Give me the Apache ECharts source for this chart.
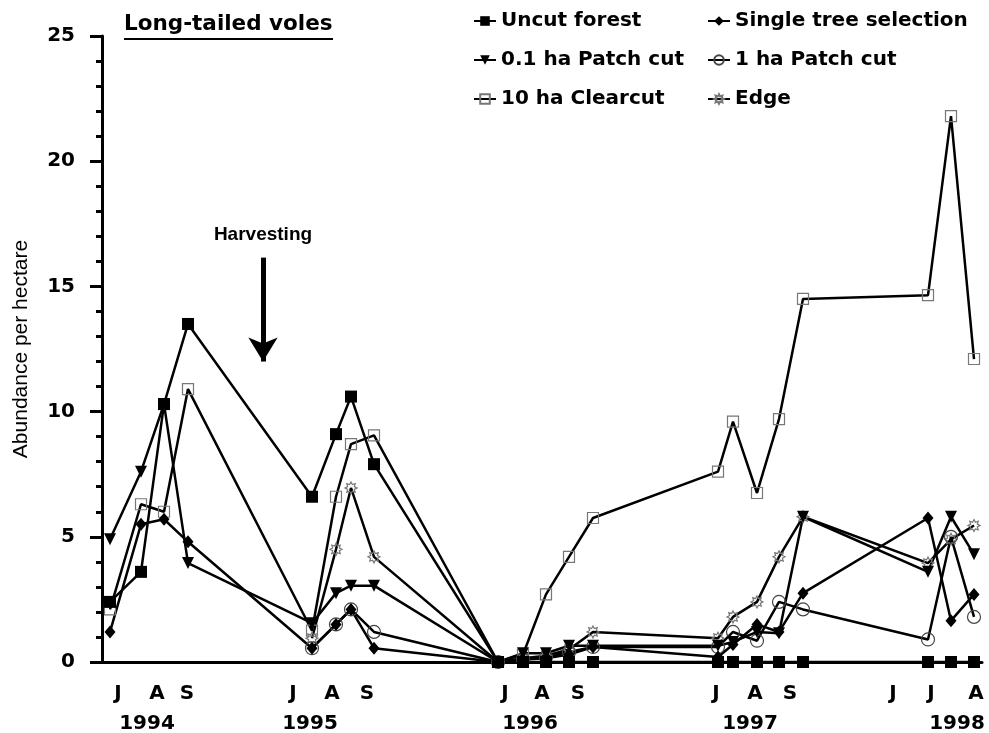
<!DOCTYPE html>
<html>
<head>
<meta charset="utf-8">
<script src="https://cdn.jsdelivr.net/npm/echarts@6/dist/echarts.min.js"></script>
<style>
html,body{margin:0;padding:0;background:#fff;}
#chart{width:989px;height:733px;}
</style>
</head>
<body>
<div id="chart"></div>
<script>
// Sampling positions along the (non-linear) time axis, in axis units
const sampleX = [8, 39, 62, 86, 210, 234, 249, 272, 396, 421, 444, 467, 491, 616, 631, 655, 677, 701, 826, 849, 872];
// Abundance per hectare for each treatment (null = not sampled)
const uncutForest   = [2.4, 3.6, 10.3, 13.5, 6.6, 9.1, 10.6, 7.9, 0, 0, 0, 0, 0, 0, 0, 0, 0, 0, 0, 0, 0];
const singleTree    = [1.2, 5.5, 5.7, 4.8, 0.55, 1.5, 2.1, 0.55, 0, 0.1, 0.15, 0.3, 0.6, 0.2, 0.7, 1.5, 1.2, 2.75, 5.75, 1.65, 2.7];
const patch01       = [4.9, 7.6, 10.3, 3.95, 1.55, 2.75, 3.05, 3.05, 0, 0.35, 0.35, 0.65, 0.65, 0.65, 0.8, 1.2, 1.15, 5.8, 3.6, 5.8, 4.3];
const patch1        = [null, null, null, null, 0.55, 1.5, 2.1, 1.2, 0, 0.1, 0.2, 0.4, 0.6, 0.6, 1.2, 0.85, 2.4, 2.1, 0.9, 5.0, 1.8];
const clearcut10    = [2.1, 6.3, 6.0, 10.9, 1.25, 6.6, 8.7, 9.05, 0, 0.3, 2.7, 4.2, 5.75, 7.6, 9.6, 6.75, 9.7, 14.5, 14.65, 21.8, 12.1];
const edgeSeries    = [null, null, null, null, 0.95, 4.5, 6.95, 4.2, 0, 0.15, 0.25, 0.5, 1.2, 0.95, 1.8, 2.4, 4.2, 5.8, 3.95, 4.9, 5.45];

// Axis labels
const monthTickPos    = [16, 55, 85, 191, 230, 265, 403, 440, 476, 614, 653, 688, 791, 829, 874];
const monthTickLabels = ['J','A','S','J','A','S','J','A','S','J','A','S','J','J','A'];
const yearTickPos     = [45, 208, 428, 648, 855];
const yearTickLabels  = ['1994','1995','1996','1997','1998'];
const yTicks = [0, 5, 10, 15, 20, 25];

const seriesNames = ['Uncut forest', 'Single tree selection', '0.1 ha Patch cut', '1 ha Patch cut', '10 ha Clearcut', 'Edge'];

function pairs(vals){
  const out = [];
  for (let i = 0; i < sampleX.length; i++) {
    if (vals[i] !== null && vals[i] !== undefined) out.push([sampleX[i], vals[i]]);
  }
  return out;
}

const starPath = 'path://M10,0L12.3,4.46L17.07,2.93L15.54,7.7L20,10L15.54,12.3L17.07,17.07L12.3,15.54L10,20L7.7,15.54L2.93,17.07L4.46,12.3L0,10L4.46,7.7L2.93,2.93L7.7,4.46Z';

const FONT = 'DejaVu Sans';
const chart = echarts.init(document.getElementById('chart'), null, {renderer: 'canvas'});

function lineSeries(name, vals, symbol, size, itemStyle, extra){
  return Object.assign({
    name: name,
    type: 'line',
    data: pairs(vals),
    symbol: symbol,
    symbolSize: size,
    showAllSymbol: true,
    lineStyle: {color: '#000', width: 2.5},
    itemStyle: itemStyle,
    emphasis: {disabled: true},
    animation: false
  }, extra || {});
}

const hollowGrey = {color: 'rgba(255,255,255,0)', borderColor: '#777', borderWidth: 1.2};

const option = {
  backgroundColor: '#fff',
  animation: false,
  grid: {left: 102, right: 7, top: 36, bottom: 71, containLabel: false, outerBoundsMode: 'none'},
  graphic: [
    {type: 'text', left: 124, top: 13, style: {text: 'Long-tailed voles', font: 'bold 21.5px "DejaVu Sans"', fill: '#000'}},
    {type: 'rect', left: 124, top: 38, shape: {width: 209, height: 2}, style: {fill: '#000'}}
  ],
  legend: [
    {
      data: [seriesNames[0], seriesNames[2], seriesNames[4]],
      orient: 'vertical', left: 473, top: 11, padding: 0, itemWidth: 22, itemHeight: 12, itemGap: 19,
      textStyle: {fontFamily: FONT, fontWeight: 'bold', fontSize: 20, color: '#000'},
      selectedMode: false
    },
    {
      data: [seriesNames[1], seriesNames[3], seriesNames[5]],
      orient: 'vertical', left: 707, top: 11, padding: 0, itemWidth: 22, itemHeight: 12, itemGap: 19,
      textStyle: {fontFamily: FONT, fontWeight: 'bold', fontSize: 20, color: '#000'},
      selectedMode: false
    }
  ],
  xAxis: [
    {
      type: 'value', min: 0, max: 880, position: 'bottom',
      axisLine: {show: true, onZero: false, lineStyle: {color: '#000', width: 3}},
      axisTick: {show: false},
      splitLine: {show: false},
      axisLabel: {
        customValues: monthTickPos, margin: 22,
        fontFamily: FONT, fontWeight: 'bold', fontSize: 20, color: '#000',
        formatter: function(v){ const i = monthTickPos.indexOf(v); return i >= 0 ? monthTickLabels[i] : ''; }
      }
    },
    {
      type: 'value', min: 0, max: 880, position: 'bottom', gridIndex: 0,
      axisLine: {show: false}, axisTick: {show: false}, splitLine: {show: false},
      axisLabel: {
        customValues: yearTickPos, margin: 52,
        fontFamily: FONT, fontWeight: 'bold', fontSize: 20, color: '#000',
        formatter: function(v){ const i = yearTickPos.indexOf(v); return i >= 0 ? yearTickLabels[i] : ''; }
      }
    }
  ],
  yAxis: {
    type: 'value', min: 0, max: 25, interval: 5,
    name: 'Abundance per hectare', nameLocation: 'middle', nameGap: 70, nameRotate: 90,
    nameTextStyle: {fontFamily: 'Liberation Sans', fontSize: 21, color: '#000'},
    axisLine: {show: true, lineStyle: {color: '#000', width: 3}},
    axisTick: {show: true, inside: false, length: 12, lineStyle: {color: '#000', width: 3}},
    minorTick: {show: true, splitNumber: 5, length: 6, lineStyle: {color: '#000', width: 3}},
    splitLine: {show: false},
    axisLabel: {margin: 27, fontFamily: FONT, fontWeight: 'bold', fontSize: 20, color: '#000',
      formatter: function(v){ return yTicks.indexOf(v) >= 0 ? String(v) : ''; }}
  },
  series: [
    lineSeries(seriesNames[4], clearcut10, 'rect', 11, hollowGrey),
    lineSeries(seriesNames[5], edgeSeries, starPath, 12, hollowGrey),
    lineSeries(seriesNames[3], patch1, 'circle', 13, {color: 'rgba(255,255,255,0)', borderColor: '#444', borderWidth: 1.2}),
    lineSeries(seriesNames[2], patch01, 'triangle', 12, {color: '#000'}, {symbolRotate: 180}),
    lineSeries(seriesNames[1], singleTree, 'diamond', [11, 13], {color: '#000'}),
    lineSeries(seriesNames[0], uncutForest, 'rect', 12, {color: '#000'}, {
      markLine: {
        silent: true, animation: false,
        symbol: ['none', 'arrow'], symbolSize: [22, 24],
        lineStyle: {color: '#000', width: 5, type: 'solid'},
        label: {show: true, position: 'start', distance: 13, formatter: 'Harvesting',
          fontFamily: 'Liberation Sans', fontWeight: 'bold', fontSize: 19, color: '#000'},
        data: [[{coord: [161, 16.15]}, {coord: [161, 12.0]}]]
      }
    })
  ]
};
chart.setOption(option);
</script>
</body>
</html>
